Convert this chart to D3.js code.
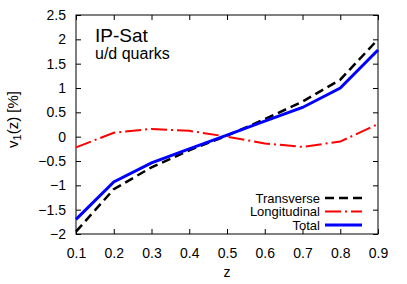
<!DOCTYPE html>
<html>
<head>
<meta charset="utf-8">
<script src="https://cdn.jsdelivr.net/npm/d3@7"></script>
<style>
  body { margin: 0; background: #fff; }
  text { font-family: "Liberation Sans", Arial, sans-serif; fill: #000; }
</style>
</head>
<body>
<div id="chart"></div>
<script>
// chart values
const zValues = [0.1, 0.2, 0.3, 0.4, 0.5, 0.6, 0.7, 0.8, 0.9]
const transverse = [-1.95, -1.08, -0.63, -0.28, 0.02, 0.36, 0.72, 1.17, 2.0]
const longitudinal = [-0.22, 0.08, 0.16, 0.12, 0.0, -0.14, -0.21, -0.1, 0.26]
const total = [-1.7, -0.93, -0.54, -0.25, 0.03, 0.32, 0.6, 1.0, 1.78]

const xTicks = [0.1, 0.2, 0.3, 0.4, 0.5, 0.6, 0.7, 0.8, 0.9]
const yTicks = [-2, -1.5, -1, -0.5, 0, 0.5, 1, 1.5, 2, 2.5]

const seriesNames = ["Transverse", "Longitudinal", "Total"]

const W = 407, H = 284
const margin = {top: 15, right: 29, bottom: 50, left: 76},
    width = W - margin.left - margin.right,
    height = H - margin.top - margin.bottom

const svg = d3.select("#chart")
  .append("svg")
    .attr("width", W)
    .attr("height", H)
  .append("g")
    .attr("transform", `translate(${margin.left},${margin.top})`)

const x = d3.scaleLinear().domain([0.1, 0.9]).range([0, width])
const y = d3.scaleLinear().domain([-2, 2.5]).range([height, 0])

// tick marks on all four sides, pointing inwards (gnuplot style)
const tickLen = 5
svg.append("g")
  .attr("transform", `translate(0,${height})`)
  .call(d3.axisBottom(x).tickValues(xTicks).tickSize(-tickLen).tickPadding(14)
    .tickFormat(d3.format(".1f")))
  .call(g => g.select(".domain").remove())
svg.append("g")
  .call(d3.axisTop(x).tickValues(xTicks).tickSize(-tickLen).tickFormat(""))
  .call(g => g.select(".domain").remove())
svg.append("g")
  .call(d3.axisLeft(y).tickValues(yTicks).tickSize(-tickLen).tickPadding(10)
    .tickFormat(d => d3.format("")(d)))
  .call(g => g.select(".domain").remove())
svg.append("g")
  .attr("transform", `translate(${width},0)`)
  .call(d3.axisRight(y).tickValues(yTicks).tickSize(-tickLen).tickFormat(""))
  .call(g => g.select(".domain").remove())

svg.selectAll(".tick text").attr("font-size", 14).attr("font-family", "Liberation Sans, Arial, sans-serif")
svg.selectAll(".tick line").attr("stroke", "#000")

svg.append("rect")
  .attr("width", width)
  .attr("height", height)
  .attr("fill", "none")
  .attr("stroke", "#000")
  .attr("stroke-width", 1)

const styles = {
  Transverse: {values: transverse, color: "#000", width: 2.5, dash: "9,5"},
  Longitudinal: {values: longitudinal, color: "#f00", width: 2, dash: "16,4,2,4"},
  Total: {values: total, color: "#00f", width: 3, dash: null}
}

const line = d3.line()
  .x(d => x(d[0]))
  .y(d => y(d[1]))

for (const name of seriesNames) {
  const s = styles[name]
  svg.append("path")
    .datum(zValues.map((z, i) => [z, s.values[i]]))
    .attr("fill", "none")
    .attr("stroke", s.color)
    .attr("stroke-width", s.width)
    .attr("stroke-dasharray", s.dash)
    .attr("d", line)
}

// legend
const legend = svg.append("g").attr("transform", "translate(244,183)")
seriesNames.forEach((name, i) => {
  const s = styles[name]
  const row = legend.append("g").attr("transform", `translate(0,${i * 13.5})`)
  row.append("text")
    .attr("x", 0)
    .attr("dy", "0.35em")
    .attr("text-anchor", "end")
    .attr("font-size", 13)
    .text(name)
  row.append("line")
    .attr("x1", 5).attr("x2", 42)
    .attr("stroke", s.color)
    .attr("stroke-width", s.width)
    .attr("stroke-dasharray", s.dash)
})

// labels
svg.append("text")
  .attr("x", 19).attr("y", 27)
  .attr("font-size", 19)
  .text("IP-Sat")
svg.append("text")
  .attr("x", 19).attr("y", 44)
  .attr("font-size", 16)
  .text("u/d quarks")

svg.append("text")
  .attr("x", width / 2).attr("y", height + 43)
  .attr("text-anchor", "middle")
  .attr("font-size", 14)
  .text("z")

const ylab = svg.append("text")
  .attr("transform", `translate(-58,${height / 2 - 5}) rotate(-90)`)
  .attr("text-anchor", "middle")
  .attr("font-size", 15)
ylab.append("tspan").text("v")
ylab.append("tspan").attr("font-size", 11).attr("dy", 3).text("1")
ylab.append("tspan").attr("dy", -3).text("(z) [%]")
</script>
</body>
</html>
